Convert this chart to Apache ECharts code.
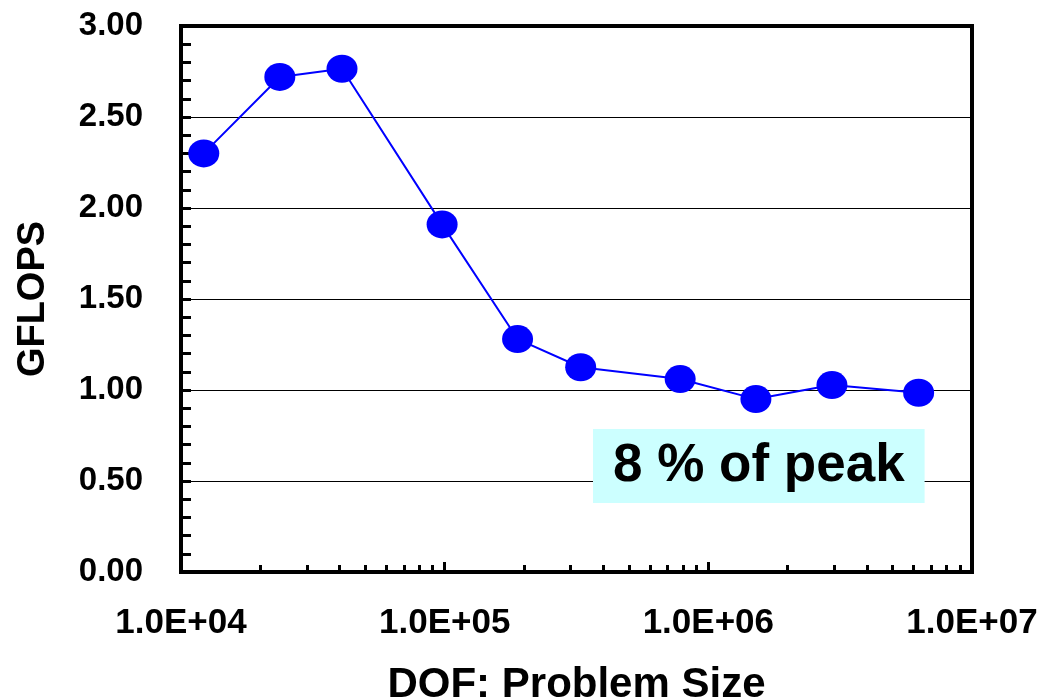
<!DOCTYPE html>
<html>
<head>
<meta charset="utf-8">
<script src="https://cdn.jsdelivr.net/npm/echarts@6/dist/echarts.min.js"></script>
<style>html,body{margin:0;padding:0;background:#fff}#c{width:1038px;height:699px}</style>
</head>
<body>
<div id="c"></div>
<script>
// Data
const dof = [12200, 23700, 40800, 97800, 189000, 328000, 782000, 1515000, 2943000, 6275000];
const gflops = [2.30, 2.72, 2.765, 1.91, 1.28, 1.125, 1.06, 0.95, 1.027, 0.985];
const xTickLabels = {4: '1.0E+04', 5: '1.0E+05', 6: '1.0E+06', 7: '1.0E+07'};
const xMinorTicks = [];
for (let e = 4; e < 7; e++) for (let m = 2; m <= 9; m++) xMinorTicks.push(m * Math.pow(10, e));
const annotationText = '8 % of peak';

const FONT = '"Liberation Sans", Arial, Helvetica, sans-serif';
const chart = echarts.init(document.getElementById('c'), null, {renderer: 'canvas'});
chart.setOption({
  animation: false,
  grid: {left: 181, top: 26, right: 66, bottom: 127, outerBoundsMode: 'none', containLabel: false,
    show: true, borderColor: '#000', borderWidth: 4, backgroundColor: 'transparent'},
  xAxis: [{
    type: 'log', logBase: 10, min: 1e4, max: 1e7,
    name: 'DOF: Problem Size', nameLocation: 'middle', nameGap: 92,
    nameTextStyle: {fontFamily: FONT, fontWeight: 'bold', fontSize: 42, color: '#000'},
    axisLine: {show: true, onZero: false, lineStyle: {color: '#000', width: 4}},
    axisTick: {show: true, inside: true, length: 10, lineStyle: {color: '#000', width: 3}},
    axisLabel: {margin: 34, fontFamily: FONT, fontWeight: 'bold', fontSize: 35, color: '#000',
      formatter: v => xTickLabels[Math.round(Math.log10(v))] || ''},
    splitLine: {show: false}
  }, {
    type: 'log', logBase: 10, min: 1e4, max: 1e7, position: 'bottom',
    axisLine: {show: false},
    axisTick: {show: true, inside: true, length: 7, customValues: xMinorTicks, lineStyle: {color: '#000', width: 3}},
    axisLabel: {show: false},
    splitLine: {show: false}
  }],
  yAxis: {
    type: 'value', min: 0, max: 3, interval: 0.5,
    name: 'GFLOPS', nameLocation: 'middle', nameGap: 128,
    nameTextStyle: {fontFamily: FONT, fontWeight: 'bold', fontSize: 38, color: '#000'},
    axisLine: {show: true, lineStyle: {color: '#000', width: 4}},
    axisTick: {show: true, inside: true, length: 10, lineStyle: {color: '#000', width: 3}},
    minorTick: {show: true, splitNumber: 5, length: 10, lineStyle: {color: '#000', width: 3}},
    axisLabel: {margin: 38, fontFamily: FONT, fontWeight: 'bold', fontSize: 33, color: '#000',
      formatter: v => v.toFixed(2)},
    splitLine: {show: true, lineStyle: {color: '#000', width: 1.2}}
  },
  series: [{
    type: 'line', xAxisIndex: 0,
    data: dof.map((x, i) => [x, gflops[i]]),
    symbol: 'circle', symbolSize: [31, 28],
    itemStyle: {color: '#0000ff'},
    lineStyle: {color: '#0000ff', width: 2},
    z: 5
  }],
  graphic: [{
    type: 'text', left: 593, top: 429, z: 10,
    style: {text: annotationText, fontFamily: FONT, fontWeight: 'bold', fontSize: 53, fill: '#000',
      backgroundColor: '#ccffff', padding: [9, 20, 9, 20], lineHeight: 56}
  }]
});
</script>
</body>
</html>
